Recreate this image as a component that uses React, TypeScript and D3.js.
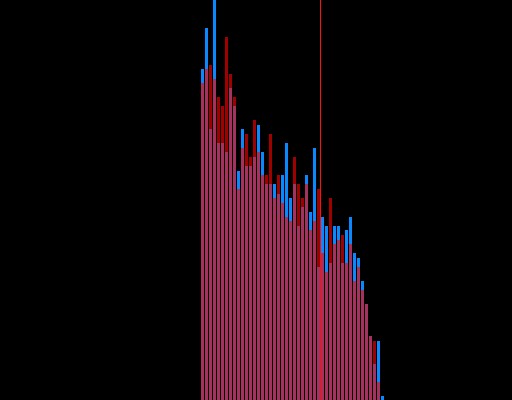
import React from "react";
import * as d3 from "d3";

const WIDTH = 512;
const HEIGHT = 400;

// Histogram bin counts (one entry per bin)
const blueCounts = [331, 372, 271, 400, 257, 257, 248, 312, 294, 229, 271, 234, 234, 243, 275, 248, 216, 216, 216, 206, 225, 257, 202, 216, 174, 193, 225, 188, 252, 133, 183, 174, 137, 174, 174, 137, 170, 183, 147, 142, 119, 96, 64, 36, 59, 4];
const redCounts = [317, 331, 335, 321, 303, 294, 363, 326, 303, 211, 252, 266, 243, 280, 248, 225, 225, 266, 202, 225, 197, 183, 179, 243, 216, 202, 216, 170, 179, 211, 147, 128, 202, 156, 160, 165, 137, 156, 119, 133, 110, 96, 64, 59, 18, 0];
// Marker position (in bin units)
const markerValue = 29.875;

export default function App() {
  const n = blueCounts.length;
  const x = d3.scaleLinear().domain([0, n]).range([201, 385]);
  const y = d3.scaleLinear().domain([0, 400]).range([HEIGHT, 0]);
  const bins = d3.range(n);
  const barW = (i: number) => x(i + 1) - x(i) - 1;

  return (
    <svg
      width={WIDTH}
      height={HEIGHT}
      style={{ position: "fixed", left: 0, top: 0, display: "block" }}
      shapeRendering="crispEdges"
    >
      <rect x={0} y={0} width={WIDTH} height={HEIGHT} fill="#000" />
      <g>
        {bins.map((i) => (
          <rect
            key={"b" + i}
            x={x(i)}
            y={y(blueCounts[i])}
            width={barW(i)}
            height={y(0) - y(blueCounts[i])}
            fill="#0a88ff"
          />
        ))}
      </g>
      <g opacity={0.63}>
        {bins.map((i) => (
          <rect
            key={"r" + i}
            x={x(i)}
            y={y(redCounts[i])}
            width={barW(i)}
            height={y(0) - y(redCounts[i])}
            fill="#ff0000"
          />
        ))}
      </g>
      <line
        x1={x(markerValue)}
        x2={x(markerValue)}
        y1={0}
        y2={HEIGHT}
        stroke="#ff1010"
        strokeWidth={1}
      />
    </svg>
  );
}
